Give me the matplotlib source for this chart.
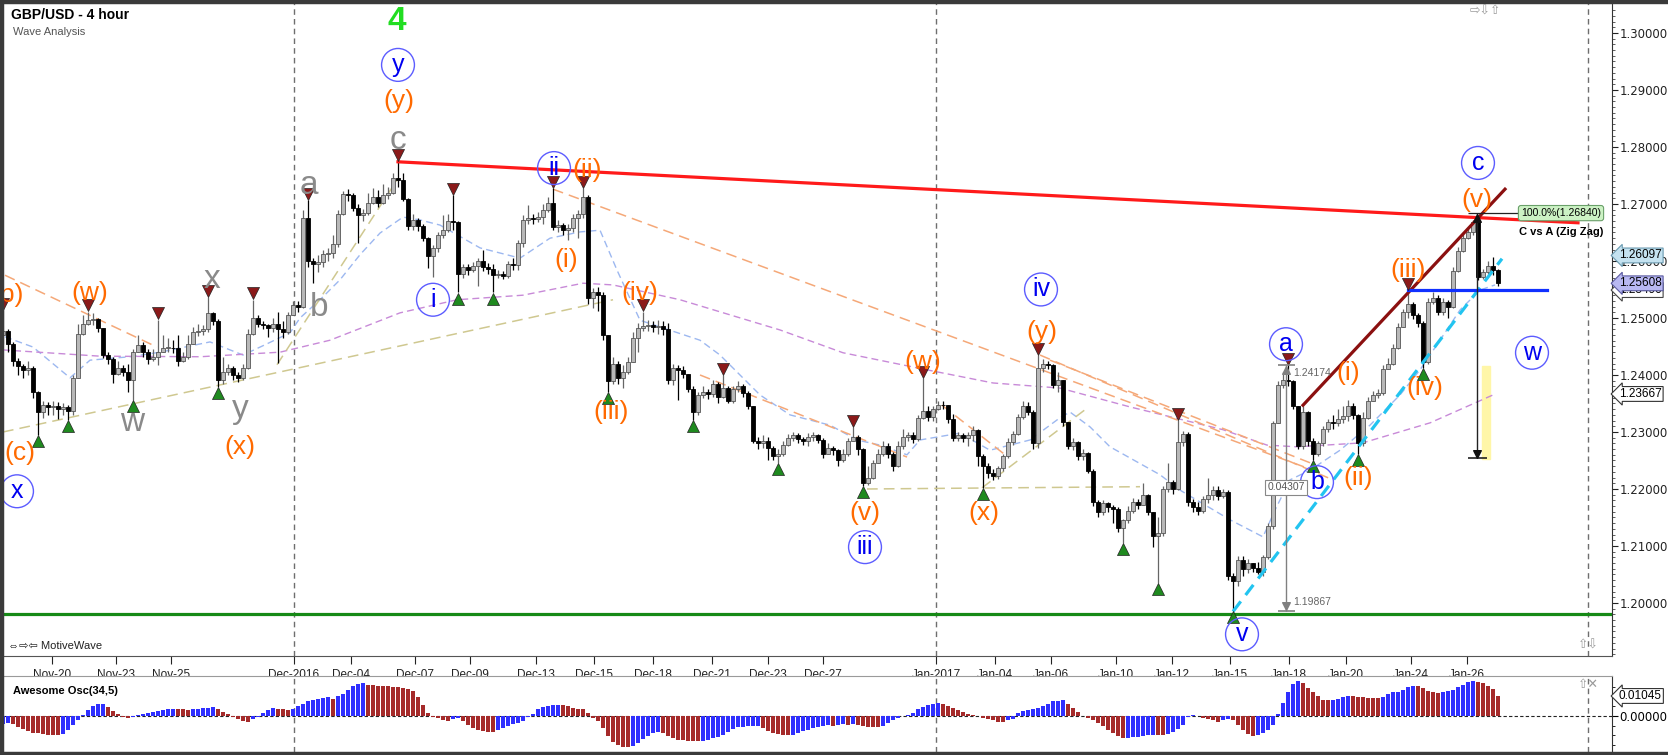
import numpy as np
import matplotlib
matplotlib.use("Agg")
import matplotlib.pyplot as plt
from matplotlib.transforms import blended_transform_factory

plt.rcParams['font.family'] = ['Liberation Sans', 'DejaVu Sans']

# ---- GBP/USD 4h candles, prices in pips above 1.2000 ----
# (forex 4h bars open at the previous bar's close)
first_open_pips = 470
close_pips = [
    478, 455, 425, 415, 408, 412, 370, 335, 348, 343,
    346, 340, 344, 336, 395, 472, 490, 496, 498, 482,
    435, 428, 402, 413, 405, 392, 440, 452, 440, 428,
    432, 440, 448, 448, 447, 425, 432, 455, 475, 478,
    480, 508, 495, 392, 405, 412, 400, 395, 412, 472,
    500, 490, 487, 482, 490, 480, 475, 505, 522, 520,
    675, 600, 595, 598, 612, 614, 630, 682, 718, 715,
    693, 680, 684, 702, 712, 702, 716, 720, 745, 742,
    708, 662, 672, 662, 640, 608, 622, 646, 655, 670,
    668, 578, 590, 585, 592, 600, 590, 586, 576, 578,
    574, 595, 593, 632, 672, 676, 674, 678, 690, 702,
    660, 664, 655, 658, 676, 682, 712, 535, 545, 540,
    470, 390, 420, 395, 406, 422, 465, 482, 486, 488,
    484, 486, 480, 392, 412, 408, 402, 376, 335, 365,
    370, 366, 385, 362, 378, 355, 375, 380, 368, 345,
    285, 280, 285, 272, 258, 262, 278, 290, 295, 288,
    285, 292, 294, 286, 262, 272, 268, 250, 262, 285,
    292, 270, 210, 220, 245, 262, 275, 262, 240, 275,
    292, 295, 288, 325, 336, 327, 340, 348, 347, 322,
    290, 295, 290, 294, 304, 258, 240, 228, 222, 236,
    258, 282, 296, 326, 346, 335, 280, 412, 420, 418,
    382, 392, 318, 275, 282, 258, 264, 232, 178, 160,
    175, 168, 165, 132, 145, 162, 178, 172, 190, 160,
    118, 122, 200, 212, 200, 282, 296, 178, 168, 162,
    182, 190, 198, 188, 195, 48, 38, 75, 60, 70,
    62, 55, 80, 135, 316, 382, 392, 390, 345, 275,
    335, 285, 262, 280, 305, 318, 316, 322, 328, 345,
    330, 280, 325, 355, 365, 368, 410, 420, 448, 485,
    510, 525, 505, 492, 422, 528, 535, 510, 528, 520,
    582, 618, 640, 650, 668, 572, 580, 592, 585, 561,
]
high_pips = [
    514, 480, 458, 430, 420, 425, 415, 372, 355, 352,
    355, 352, 350, 348, 400, 490, 505, 511, 508, 500,
    483, 440, 432, 425, 418, 420, 445, 470, 458, 445,
    445, 497, 470, 465, 462, 470, 440, 470, 485, 490,
    488, 537, 510, 498, 432, 420, 415, 405, 420, 480,
    532, 505, 495, 490, 500, 510, 495, 510, 530, 530,
    690, 707, 605, 610, 620, 622, 645, 690, 722, 727,
    720, 700, 692, 720, 728, 725, 735, 730, 755, 775,
    755, 710, 682, 675, 665, 642, 628, 650, 680, 683,
    716, 670, 595, 595, 598, 605, 620, 596, 595, 585,
    582, 600, 605, 636, 680, 698, 682, 686, 700, 712,
    728, 672, 666, 665, 683, 690, 728, 715, 552, 555,
    546, 470, 432, 425, 418, 432, 475, 492, 511, 497,
    495, 496, 494, 492, 420, 418, 415, 400, 380, 370,
    380, 375, 392, 388, 400, 380, 380, 390, 385, 372,
    345, 292, 295, 292, 275, 270, 285, 296, 300, 298,
    292, 298, 300, 296, 290, 280, 276, 270, 270, 290,
    309, 295, 272, 240, 250, 270, 285, 280, 265, 285,
    305, 300, 300, 330, 394, 345, 345, 355, 355, 348,
    332, 300, 298, 300, 310, 305, 262, 245, 235, 240,
    262, 290, 302, 332, 355, 352, 338, 435, 428, 425,
    420, 405, 392, 318, 290, 285, 270, 265, 235, 180,
    180, 178, 172, 168, 148, 170, 185, 182, 210, 192,
    160, 150, 205, 245, 215, 321, 302, 300, 182, 178,
    188, 220, 205, 205, 200, 198, 52, 82, 82, 78,
    70, 72, 85, 140, 320, 390, 405, 417, 392, 346,
    345, 336, 290, 285, 310, 322, 330, 340, 345, 356,
    350, 332, 335, 362, 372, 375, 418, 430, 455, 492,
    515, 549, 528, 508, 495, 535, 545, 540, 535, 532,
    590, 625, 650, 660, 672, 675, 586, 600, 607, 586,
]
low_pips = [
    455, 440, 415, 400, 395, 400, 360, 295, 325, 330,
    330, 322, 330, 321, 330, 395, 470, 488, 488, 475,
    430, 420, 386, 400, 398, 370, 356, 440, 432, 420,
    425, 418, 440, 440, 438, 415, 422, 428, 460, 468,
    470, 475, 488, 379, 385, 400, 392, 387, 392, 410,
    470, 485, 480, 467, 475, 421, 465, 472, 505, 510,
    518, 590, 561, 580, 590, 600, 605, 625, 680, 705,
    688, 632, 670, 680, 700, 695, 700, 708, 718, 730,
    705, 655, 655, 652, 635, 588, 572, 615, 640, 650,
    655, 545, 570, 575, 580, 556, 582, 578, 545, 570,
    568, 570, 585, 585, 625, 665, 665, 668, 665, 686,
    655, 650, 646, 637, 650, 640, 676, 525, 518, 512,
    462, 370, 385, 385, 378, 402, 425, 440, 478, 478,
    476, 472, 470, 385, 383, 356, 395, 370, 321, 330,
    360, 358, 362, 350, 360, 350, 350, 370, 362, 340,
    280, 270, 272, 250, 250, 246, 258, 275, 285, 280,
    278, 276, 285, 280, 255, 262, 260, 240, 248, 258,
    285, 260, 205, 207, 218, 245, 258, 255, 232, 238,
    270, 285, 280, 285, 322, 320, 320, 338, 340, 315,
    285, 285, 282, 275, 285, 240, 202, 220, 215, 218,
    232, 255, 278, 294, 322, 330, 270, 272, 405, 410,
    378, 370, 310, 270, 268, 250, 250, 228, 170, 150,
    155, 160, 140, 125, 105, 140, 158, 165, 172, 155,
    98, 35, 118, 195, 192, 198, 275, 170, 160, 155,
    158, 175, 180, 180, 185, 40, -13, 30, 48, 52,
    55, 50, 48, 78, 130, 316, 378, 380, 340, 270,
    270, 275, 251, 258, 275, 300, 305, 310, 315, 320,
    322, 262, 275, 322, 355, 360, 365, 410, 418, 445,
    485, 500, 498, 485, 412, 420, 525, 505, 505, 500,
    518, 580, 615, 638, 645, 567, 568, 578, 575, 556,
]
# Awesome Oscillator (34,5), in pips
ao_pips = [
    -42, -39, -44, -57, -68, -78, -89, -91, -94, -97,
    -99, -101, -94, -73, -47, -21, 5, 31, 52, 63,
    65, 47, 26, 10, -3, -8, -5, 3, 10, 16,
    21, 26, 30, 34, 37, 35, 34, 33, 35, 38,
    41, 44, 47, 37, 21, 8, -3, -16, -26, -31,
    -18, -3, 16, 31, 42, 38, 34, 31, 37, 52,
    65, 76, 84, 89, 94, 99, 91, 104, 115, 136,
    157, 167, 170, 164, 162, 159, 157, 154, 151, 149,
    146, 141, 131, 99, 57, 16, -5, -13, -21, -26,
    -18, -13, -26, -47, -63, -73, -78, -81, -82, -73,
    -63, -52, -42, -34, -26, -5, 10, 37, 47, 52,
    56, 58, 57, 52, 42, 39, 34, 18, -10, -26,
    -63, -104, -136, -151, -162, -164, -159, -141, -120, -102,
    -91, -86, -91, -104, -117, -123, -125, -128, -131, -132,
    -129, -123, -115, -107, -97, -86, -70, -57, -55, -54,
    -53, -52, -63, -76, -89, -94, -98, -100, -97, -89,
    -78, -73, -65, -57, -52, -49, -50, -47, -44, -46,
    -43, -45, -50, -55, -57, -59, -52, -37, -21, -8,
    0, 5, 18, 34, 47, 57, 65, 68, 63, 52,
    42, 31, 21, 10, 3, 0, -8, -16, -23, -29,
    -31, -23, -16, 16, 26, 31, 37, 44, 52, 65,
    76, 79, 82, 63, 42, 21, 0, -13, -23, -37,
    -52, -73, -89, -104, -117, -115, -112, -110, -104, -99,
    -97, -99, -101, -92, -86, -68, -47, -5, 3, 2,
    -8, -16, -21, -29, -23, -16, -21, -47, -73, -94,
    -102, -99, -91, -73, -47, 10, 68, 125, 167, 183,
    172, 146, 125, 104, 86, 84, 85, 91, 99, 104,
    102, 99, 97, 95, 94, 93, 99, 115, 125, 127,
    136, 149, 157, 154, 146, 133, 125, 120, 123, 131,
    138, 149, 162, 175, 183, 180, 172, 157, 141, 105,
]

# moving averages (bar, price)
ma_fast_bar = [0.4, 6, 13.4, 17.4, 25.4, 31.4, 41.4, 48, 52.4, 57.4, 59.4, 63.4, 67.4, 71.4,
               75.4, 80, 83.4, 87.4, 95.4, 103.4, 109.4, 115.4, 119.4, 122.8, 127.4, 139.4,
               143.4, 151.4, 157.4, 165.4, 170.8, 175.4, 180.8, 183.4, 191.4, 197.4, 205.4,
               211.4, 213.4, 217.4, 221.4, 231.4, 235.4, 245.4, 252, 254.4, 257.4, 261.4,
               267.4, 273.4, 279.4, 283.4, 287.4, 291.4, 295.4, 298.4]
ma_fast_val = [1.2467, 1.2449, 1.2395, 1.2426, 1.2432, 1.2440, 1.2458, 1.2435, 1.2453, 1.2474,
               1.2500, 1.2532, 1.2567, 1.2611, 1.2649, 1.2677, 1.2672, 1.2663, 1.2623, 1.2605,
               1.2640, 1.2651, 1.2654, 1.2584, 1.2496, 1.2461, 1.2435, 1.2365, 1.2330, 1.2312,
               1.2286, 1.2277, 1.2260, 1.2286, 1.2298, 1.2268, 1.2286, 1.2325, 1.2335, 1.2309,
               1.2274, 1.2225, 1.2198, 1.2146, 1.2116, 1.2163, 1.2216, 1.2233, 1.2268, 1.2312,
               1.2365, 1.2409, 1.2461, 1.2514, 1.2549, 1.2558]
ma_slow_bar = [0, 19.4, 39.4, 55.4, 65.4, 79.4, 90.8, 104, 116, 122, 135.4, 155.4, 168, 184.8,
               198, 211.4, 225.4, 244, 252.8, 258.8, 272, 285.4, 298]
ma_slow_val = [1.2444, 1.2433, 1.2432, 1.2440, 1.2461, 1.2509, 1.2532, 1.2540, 1.2561, 1.2558,
               1.2532, 1.2479, 1.2439, 1.2409, 1.2386, 1.2377, 1.2344, 1.2304, 1.2277, 1.2274,
               1.2281, 1.2316, 1.2365]

peak_bars = [0, 17, 31, 41, 50, 61, 79, 90, 110, 116, 128, 144, 170, 184, 207, 235, 257, 281]
trough_bars = [7, 13, 26, 43, 91, 98, 121, 138, 155, 172, 196, 224, 231, 246, 262, 271, 284]

date_pos = [9.8, 22.6, 33.6, 58.2, 69.6, 82.4, 93.4, 106.6, 118.2, 130, 141.8, 153, 164,
            186.6, 198.4, 209.6, 222.6, 233.8, 245.4, 257.2, 268.6, 281.6, 292.8]
date_lbl = ['Nov-20', 'Nov-23', 'Nov-25', 'Dec-2016', 'Dec-04', 'Dec-07', 'Dec-09', 'Dec-13',
            'Dec-15', 'Dec-18', 'Dec-21', 'Dec-23', 'Dec-27', 'Jan-2017', 'Jan-04', 'Jan-06',
            'Jan-10', 'Jan-12', 'Jan-15', 'Jan-18', 'Jan-20', 'Jan-24', 'Jan-26']
sep_bars = [58.2, 186.6, 317]

orange_labels = [("(b)", 1.0, 1.2540), ("(c)", 3.4, 1.2263), ("(w)", 17.4, 1.2544),
                 ("(x)", 47.4, 1.2274), ("(y)", 79.2, 1.2881), ("(i)", 112.6, 1.2602),
                 ("(ii)", 116.8, 1.2760), ("(iii)", 121.6, 1.2335), ("(iv)", 127.4, 1.2544),
                 ("(v)", 172.4, 1.2158), ("(w)", 184.0, 1.2423), ("(x)", 196.2, 1.2158),
                 ("(y)", 207.8, 1.2475), ("(i)", 269.0, 1.2404), ("(ii)", 271.0, 1.2219),
                 ("(iii)", 281.0, 1.2584), ("(iv)", 284.4, 1.2377), ("(v)", 294.8, 1.2707)]
gray_labels = [("w", 25.8, 1.2316), ("x", 41.8, 1.2567), ("y", 47.4, 1.2339),
               ("a", 61.2, 1.2733), ("b", 63.2, 1.2519), ("c", 79.0, 1.2812)]
circle_labels = [("x", 2.8, 1.2196), ("y", 79.0, 1.2944), ("i", 86.0, 1.2532),
                 ("ii", 110.2, 1.2763), ("iii", 172.4, 1.2098), ("iv", 207.6, 1.2550),
                 ("v", 247.8, 1.1945), ("a", 256.6, 1.2454), ("b", 262.8, 1.2212),
                 ("c", 295.0, 1.2772), ("w", 305.8, 1.2439)]

assert len(close_pips) == len(high_pips) == len(low_pips) == len(ao_pips) == 300

# ---- figure layout (pixel boxes) ----
W, H = 1668, 755
fig = plt.figure(figsize=(W / 100, H / 100), dpi=100)

def box(x0, y0, x1, y1):
    return [x0 / W, 1 - y1 / H, (x1 - x0) / W, (y1 - y0) / H]

ax = fig.add_axes(box(3, 3, 1612, 656))
ao_ax = fig.add_axes(box(3, 676, 1612, 752))

# dark window frame
for r in [box(0, 0, W, 3), box(0, 0, 3, H), box(0, 752, W, H)]:
    fig.patches.append(plt.Rectangle((r[0], r[1]), r[2], r[3], transform=fig.transFigure,
                                     color='#3a3a3a', zorder=0))

bars = np.arange(300)
c = 1.2 + np.array(close_pips) / 1e4
o = 1.2 + np.array([first_open_pips] + close_pips[:-1]) / 1e4
h = np.maximum(1.2 + np.array(high_pips) / 1e4, np.maximum(o, c))
l = np.minimum(1.2 + np.array(low_pips) / 1e4, np.minimum(o, c))
up = c >= o

ax.vlines(bars, l, h, colors=np.where(up, '#666666', '#000000'), lw=0.9, zorder=4)
ax.bar(bars, np.maximum(np.abs(c - o), 0.00008), bottom=np.minimum(o, c), width=0.62,
       color=np.where(up, '#b8b8b8', '#000000'), edgecolor=np.where(up, '#555555', '#000000'),
       lw=0.6, zorder=5)

ax.set_xlim(0, 321.8)
ax.set_ylim(1.19070, 1.30526)

# moving averages
ax.plot(ma_fast_bar, ma_fast_val, color='#9db8f0', lw=1, ls=(0, (5, 3)), zorder=3)
ax.plot(ma_slow_bar, ma_slow_val, color='#c88ad8', lw=1, ls=(0, (5, 3)), zorder=3)

# thin dashed helper lines
orange_dash = '#f5a878'
khaki_dash = '#cfc890'
for (x0, y0, x1, y1) in [(0.4, 1.2575, 30.8, 1.2449), (110, 1.2726, 262, 1.2233),
                         (139.4, 1.2400, 180.8, 1.2256), (187.8, 1.2347, 201, 1.2256),
                         (207.4, 1.2435, 266, 1.2216), (209.4, 1.2426, 261.4, 1.2246)]:
    ax.plot([x0, x1], [y0, y1], color=orange_dash, lw=1.1, ls=(0, (7, 4)), zorder=3)
for (x0, y0, x1, y1) in [(0, 1.2300, 122, 1.2532), (54.8, 1.2418, 78.8, 1.2742),
                         (172.8, 1.2200, 227.4, 1.2204), (195.8, 1.2202, 216.4, 1.2339)]:
    ax.plot([x0, x1], [y0, y1], color=khaki_dash, lw=1.1, ls=(0, (7, 4)), zorder=3)

# main trend lines
ax.plot([79, 315], [1.2774, 1.2667], color='#ff1a1a', lw=2.3, zorder=6)
ax.plot([260, 300.4], [1.2347, 1.2726], color='#8b1010', lw=2.3, zorder=6)
ax.plot([246, 299.8], [1.1985, 1.2604], color='#22c4f0', lw=2.3, ls=(0, (4, 2.5)), zorder=6)
ax.plot([281, 308.8], [1.2549, 1.2549], color='#1030ff', lw=2.3, zorder=6)
ax.axhline(1.1981, color='#168a16', lw=2.3, zorder=6)

# swing markers
ax.scatter(bars[peak_bars], h[peak_bars] + 0.0011, marker='v', s=75, color='#8b1a1a',
           edgecolor='#222222', lw=0.5, zorder=7)
ax.scatter(bars[trough_bars], l[trough_bars] - 0.0011, marker='^', s=75, color='#1f8a1f',
           edgecolor='#222222', lw=0.5, zorder=7)

# wave labels
for t, x, y in orange_labels:
    ax.text(x, y, t, color='#ff6a00', fontsize=19, ha='center', va='center', zorder=8,
            clip_on=True)
for t, x, y in gray_labels:
    ax.text(x, y, t, color='#8a8a8a', fontsize=24, ha='center', va='center', zorder=8)
for t, x, y in circle_labels:
    ax.scatter([x], [y], s=560, facecolor='none', edgecolor='#5c5cff', lw=1, zorder=8)
    ax.annotate(t, (x, y), xytext=(0, -5), textcoords='offset points', color='#0000f0',
                fontsize=18, ha='center', va='baseline', zorder=9)
ax.text(78.8, 1.3021, '4', color='#22dd22', fontsize=24, fontweight='bold',
        ha='center', va='center', zorder=8)

# measurement a -> v
mcol = '#808080'
ax.vlines(256.6, 1.19867, 1.24174, color=mcol, lw=1, zorder=7)
ax.hlines([1.24174, 1.19867], 255, 258.4, color=mcol, lw=1.2, zorder=7)
ax.scatter([256.6], [1.2408], marker='^', s=30, color=mcol, zorder=7)
ax.scatter([256.6], [1.1995], marker='v', s=30, color=mcol, zorder=7)
ax.text(258.0, 1.2404, '1.24174', color='#666666', fontsize=7.5, va='center', zorder=8)
ax.text(258.0, 1.2001, '1.19867', color='#666666', fontsize=7.5, va='center', zorder=8)
ax.text(256.6, 1.2203, '0.04307', color='#555555', fontsize=7.5, ha='center', va='center',
        zorder=9, bbox=dict(boxstyle='square,pad=0.25', fc='white', ec='#888888', lw=0.8))

# measurement c vs a
ax.add_patch(plt.Rectangle((295.8, 1.2253), 1.6, 0.0163, color='#fff6a8', zorder=2))
ax.vlines(294.8, 1.2254, 1.2684, color='#222222', lw=1, zorder=7)
ax.hlines(1.2684, 293, 304, color='#222222', lw=0.9, zorder=7)
ax.hlines(1.2254, 293, 296.8, color='#222222', lw=1.2, zorder=7)
ax.scatter([294.8], [1.2676], marker='^', s=30, color='#111111', zorder=7)
ax.scatter([294.8], [1.2262], marker='v', s=30, color='#111111', zorder=7)
ax.text(311.6, 1.2684, '100.0%(1.26840)', fontsize=7.5, ha='center', va='center', zorder=9,
        bbox=dict(boxstyle='round,pad=0.25', fc='#ccf2c4', ec='#6aa06a', lw=0.8))
ax.text(311.6, 1.2651, 'C vs A (Zig Zag)', fontsize=8, fontweight='bold', ha='center',
        va='center', zorder=9)

# separators
for b in sep_bars:
    ax.axvline(b, color='#6e6e6e', lw=1, ls=(0, (4, 3)), zorder=1)
    ao_ax.axvline(b, color='#6e6e6e', lw=1, ls=(0, (4, 3)), zorder=1)

# axes styling
ax.yaxis.tick_right()
ax.set_yticks(np.arange(1.20, 1.3001, 0.01))
ax.set_yticklabels(['%.5f' % v for v in np.arange(1.20, 1.3001, 0.01)], family='DejaVu Sans')
ax.set_yticks(np.arange(1.191, 1.305, 0.001), minor=True)
ax.tick_params(axis='y', which='major', length=4, labelsize=8.5, pad=1.5, colors='#222222')
ax.tick_params(axis='y', which='minor', length=2.5, color='#444444')
ax.set_xticks(date_pos)
ax.set_xticklabels(date_lbl)
ax.tick_params(axis='x', length=6, labelsize=8.5, pad=3, colors='#222222')
for sp in ax.spines.values():
    sp.set_color('#9a9a9a')
ax.spines['right'].set_color('#333333')
ax.spines['bottom'].set_color('#555555')

# price tags on the scale
tr = blended_transform_factory(ax.transAxes, ax.transData)
for val, txt, fc, ec in [(1.26097, '1.26097', '#c4e2f0', '#6a9ab0'),
                         (1.25490, '1.25490', 'white', '#444444'),
                         (1.25608, '1.25608', '#b8b8f2', '#5a5aa0'),
                         (1.23667, '1.23667', 'white', '#333333')]:
    ax.annotate(txt, (1.0, val), xycoords=tr, xytext=(5, 0), textcoords='offset points',
                fontsize=8.5, ha='left', va='center', annotation_clip=False, zorder=10,
                bbox=dict(boxstyle='larrow,pad=0.12', fc=fc, ec=ec, lw=0.8))

# Awesome oscillator
ao = np.array(ao_pips) / 1e4
rising = np.r_[True, ao[1:] >= ao[:-1]]
ao_ax.axhline(0, color='#222222', lw=0.8, ls=(0, (3, 2)), zorder=1)
ao_ax.bar(bars, ao, width=0.72, color=np.where(rising, '#2f2fff', '#a52a2a'), zorder=3)
ao_ax.set_xlim(0, 321.8)
ao_ax.set_ylim(-0.01879, 0.02088)
ao_ax.set_xticks([])
ao_ax.yaxis.tick_right()
ao_ax.set_yticks([0.0])
ao_ax.set_yticklabels(['0.00000'], family='DejaVu Sans')
ao_ax.set_yticks([-0.015, -0.01, -0.005, 0.005, 0.01, 0.015], minor=True)
ao_ax.tick_params(axis='y', which='major', length=4, labelsize=8.5, pad=1.5)
ao_ax.tick_params(axis='y', which='minor', length=2.5)
for sp in ao_ax.spines.values():
    sp.set_color('#9a9a9a')
ao_ax.spines['right'].set_color('#333333')
tr2 = blended_transform_factory(ao_ax.transAxes, ao_ax.transData)
ao_ax.annotate('0.01045', (1.0, 0.01045), xycoords=tr2, xytext=(5, 0),
               textcoords='offset points', fontsize=8.5, ha='left', va='center',
               annotation_clip=False, bbox=dict(boxstyle='larrow,pad=0.12', fc='white',
                                                ec='#333333', lw=0.8))
ao_ax.text(0.006, 0.80, 'Awesome Osc(34,5)', transform=ao_ax.transAxes, fontsize=8,
           fontweight='bold', va='center')

# titles and chrome
fig.text(11 / W, 1 - 15 / H, 'GBP/USD - 4 hour', fontsize=10, fontweight='bold', va='center')
fig.text(13 / W, 1 - 32 / H, 'Wave Analysis', fontsize=8, color='#555555', va='center')
fig.text(8 / W, 1 - 646 / H, '⇔⇨⇦ MotiveWave', fontsize=8, color='#222222', va='center')
fig.text(1470 / W, 1 - 12 / H, '⇨⇩⇧', fontsize=9, color='#9a9a9a', va='center')
fig.text(1578 / W, 1 - 646 / H, '⇧⇩', fontsize=9, color='#9a9a9a', va='center')
fig.text(1578 / W, 1 - 685 / H, '⇧✕', fontsize=9, color='#9a9a9a', va='center')

fig.savefig('out.png', dpi=100)
